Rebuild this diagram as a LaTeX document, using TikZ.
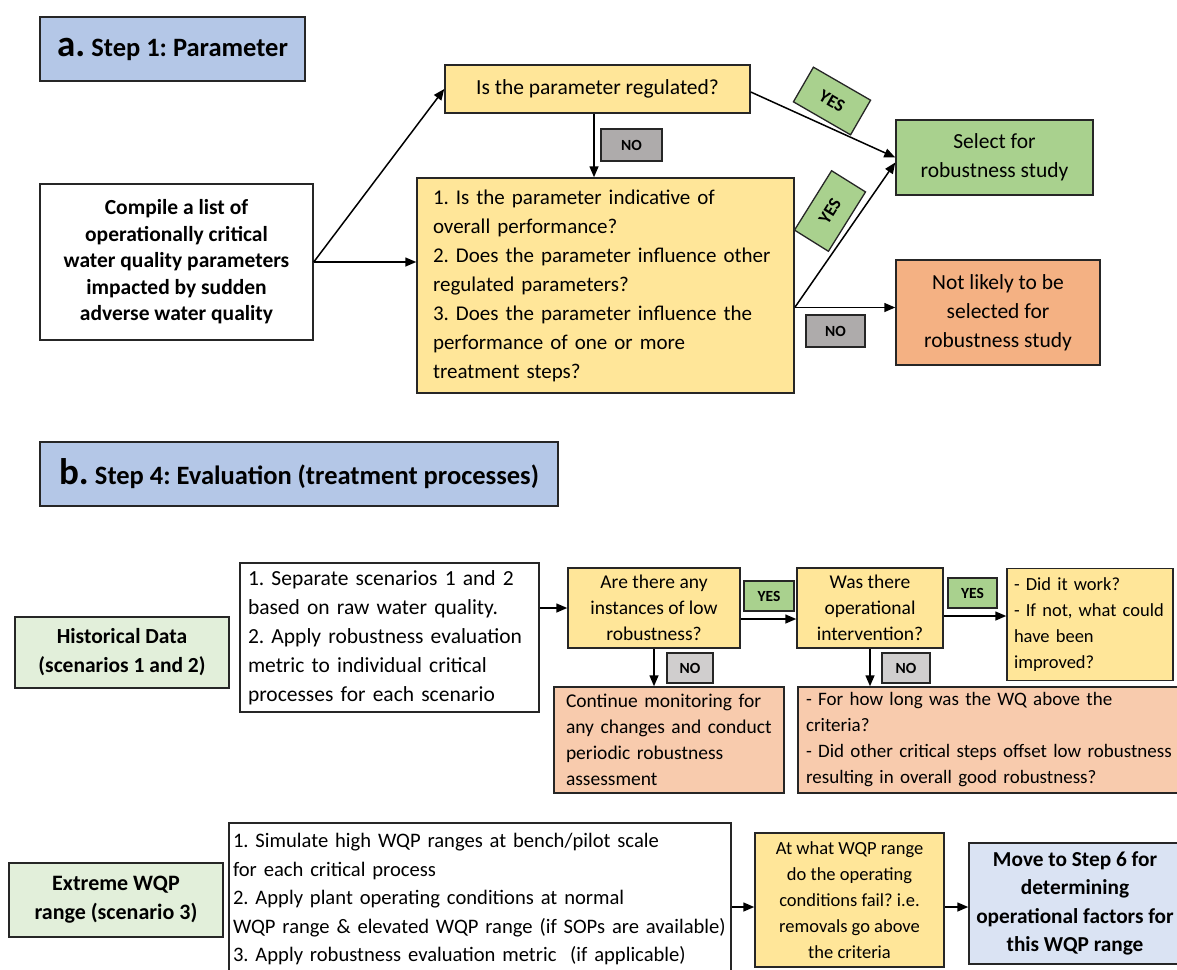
\documentclass[tikz,border=0pt]{standalone}
\usepackage{fontspec}
\setmainfont{Carlito}
\usetikzlibrary{arrows.meta, positioning}

\definecolor{hdrblue}{HTML}{B4C7E7}
\definecolor{qyellow}{HTML}{FFE699}
\definecolor{okgreen}{HTML}{A9D18E}
\definecolor{badorange}{HTML}{F4B183}
\definecolor{nogray}{HTML}{AEABAB}
\definecolor{nolight}{HTML}{D0CECE}
\definecolor{datagreen}{HTML}{E2EFDA}
\definecolor{softorange}{HTML}{F8CBAD}
\definecolor{nextblue}{HTML}{DAE3F3}

\tikzset{
  box/.style={draw=black!85, line width=1.5pt, inner sep=0pt, align=center},
  tag/.style={draw=black!85, line width=1.3pt, inner sep=0pt, font=\fontsize{15.5}{15.5}\selectfont\bfseries},
  arr/.style={-{Triangle[length=11pt,width=9pt]}, line width=1.5pt},
  fa/.style={font=\fontsize{21.5}{29}\selectfont},
  fb/.style={font=\fontsize{19.5}{26}\selectfont},
}

\begin{document}
\frenchspacing
\begin{tikzpicture}[x=1pt, y=-1pt]
\useasboundingbox (0,0) rectangle (1177,969);

% Part a: Step 1
\node[box, fill=hdrblue, minimum width=265pt, minimum height=64pt] (titleA) at (172.5,49)
  {\fontsize{37}{37}\selectfont\bfseries a.\,\fontsize{26.5}{26.5}\selectfont Step 1: Parameter};
\node[box, minimum width=273pt, minimum height=156pt, font=\fontsize{21.5}{26.5}\selectfont\bfseries] (compile) at (176.5,262)
  {Compile a list of\\operationally critical\\water quality parameters\\impacted by sudden\\adverse water quality};
\node[box, fill=qyellow, minimum width=305pt, minimum height=48pt, fa] (reg) at (597.5,89)
  {Is the parameter regulated?};
\node[box, fill=qyellow, minimum width=377pt, minimum height=215pt, inner xsep=16pt, text width=345pt, align=left, font=\fontsize{21}{29}\selectfont] (quest) at (605.5,285.5)
  {1. Is the parameter indicative of\\overall performance?\\2. Does the parameter influence other\\regulated parameters?\\3. Does the parameter influence the\\performance of one or more\\treatment steps?};
\node[box, fill=okgreen, minimum width=197pt, minimum height=75pt, fa] (select) at (994.5,157.5)
  {Select for\\robustness study};
\node[box, fill=badorange, minimum width=204pt, minimum height=105pt, fa] (notsel) at (998,312.5)
  {Not likely to be\\selected for\\robustness study};

\node[tag, fill=nogray, minimum width=61pt, minimum height=32pt] (noA1) at (631.5,145) {NO};
\node[tag, fill=nogray, minimum width=59pt, minimum height=32pt] (noA2) at (835.5,331) {NO};
\node[tag, fill=okgreen, minimum width=66pt, minimum height=40pt, rotate=-30, font=\fontsize{18}{18}\selectfont\bfseries] (yesA1) at (832,101) {YES};
\node[tag, fill=okgreen, minimum width=70pt, minimum height=40pt, rotate=58, font=\fontsize{18}{18}\selectfont\bfseries] (yesA2) at (830,211) {YES};

\coordinate (qa) at ([yshift=-22pt]quest.east);
\draw[arr] (compile.east) -- (reg.west);
\draw[arr] (compile.east) -- (compile.east -| quest.west);
\draw[arr] ([xshift=-3.5pt]reg.south) -- ([xshift=-3.5pt]reg.south |- quest.north);
\draw[arr] ([yshift=-3pt]reg.east) -- (select.west);
\draw[arr] (qa) -- ([yshift=-5pt]select.west);
\draw[arr] (qa) -- (qa -| notsel.west);

% Part b: Step 4
\node[box, fill=hdrblue, minimum width=518pt, minimum height=64pt] (titleB) at (299,474)
  {\fontsize{37}{37}\selectfont\bfseries b.\,\fontsize{26.5}{26.5}\selectfont Step 4: Evaluation (treatment processes)};

% historical data row
\node[box, fill=datagreen, minimum width=214pt, minimum height=71pt, font=\fontsize{21.5}{29}\selectfont\bfseries] (hist) at (122,652.5)
  {Historical Data\\(scenarios 1 and 2)};
\node[box, minimum width=299pt, minimum height=149pt, inner xsep=8pt, text width=283pt, align=left, fa] (sep) at (389.5,637.5)
  {1. Separate scenarios 1 and 2\\based on raw water quality.\\2. Apply robustness evaluation\\metric to individual critical\\processes for each scenario};
\node[box, fill=qyellow, minimum width=172pt, minimum height=80pt, fb] (q1) at (654,608)
  {Are there any\\instances of low\\robustness?};
\node[box, fill=qyellow, minimum width=146pt, minimum height=80pt, fb] (q2) at (870,608)
  {Was there\\operational\\intervention?};
\node[box, fill=qyellow, minimum width=166pt, minimum height=112pt, inner xsep=7pt, text width=152pt, align=left, font=\fontsize{18.5}{26}\selectfont] (did) at (1090,624.5)
  {- Did it work?\\- If not, what could\\have been\\improved?};
\node[box, fill=softorange, minimum width=230pt, minimum height=106pt, inner xsep=12pt, text width=206pt, align=left, fb] (cont) at (669,740)
  {Continue monitoring for\\any changes and conduct\\periodic robustness\\assessment};
\node[box, fill=softorange, minimum width=392pt, minimum height=106pt, inner xsep=8pt, text width=376pt, align=left, font=\fontsize{19}{26}\selectfont] (forlong) at (994,740)
  {- For how long was the WQ above the\\criteria?\\- Did other critical steps offset low robustness\\resulting in overall good robustness?};

\foreach \nm/\px/\py/\w/\txt/\col in {yesB1/769/596/50/YES/okgreen, yesB2/972.5/593/49/YES/okgreen,
    noB1/690/668/46/NO/nolight, noB2/906/668/48/NO/nolight}
  \node[tag, fill=\col, minimum width=\w pt, minimum height=30pt] (\nm) at (\px,\py) {\txt};

\draw[arr] (sep.east |- q1.west) -- (q1.west);
\draw[arr] ([yshift=-11pt]q1.east) -- ([yshift=-11pt]q2.west);
\draw[arr] ([yshift=-8pt]q2.east) -- ([yshift=-8pt]q2.east -| did.west);
\draw[arr] (q1.south) -- (q1.south |- cont.north);
\draw[arr] (q2.south) -- (q2.south |- forlong.north);

% extreme range row
\node[box, fill=datagreen, minimum width=214pt, minimum height=74pt, font=\fontsize{22}{29}\selectfont\bfseries] (extreme) at (116,900)
  {Extreme WQP\\range (scenario 3)};
\node[box, minimum width=502pt, minimum height=152pt, inner xsep=4pt, text width=494pt, align=left, font=\fontsize{20.6}{28.5}\selectfont] (sim) at (480,899)
  {1. Simulate high WQP ranges at bench/pilot scale\\for each critical process\\2. Apply plant operating conditions at normal\\WQP range \& elevated WQP range (if SOPs are available)\\3. Apply robustness evaluation metric~~(if applicable)};
\node[box, fill=qyellow, minimum width=189pt, minimum height=134pt, font=\fontsize{18.5}{26}\selectfont] (fail) at (849.5,900)
  {At what WQP range\\do the operating\\conditions fail? i.e.\\removals go above\\the criteria};
\node[box, fill=nextblue, minimum width=212pt, minimum height=121pt, font=\fontsize{21.3}{28.5}\selectfont\bfseries] (move) at (1075,903.5)
  {Move to Step 6 for\\determining\\operational factors for\\this WQP range};

\coordinate (rb) at ([yshift=-7pt]fail.west);
\draw[arr] (rb -| sim.east) -- (rb);
\draw[arr] (rb -| fail.east) -- (rb -| move.west);

\end{tikzpicture}
\end{document}
